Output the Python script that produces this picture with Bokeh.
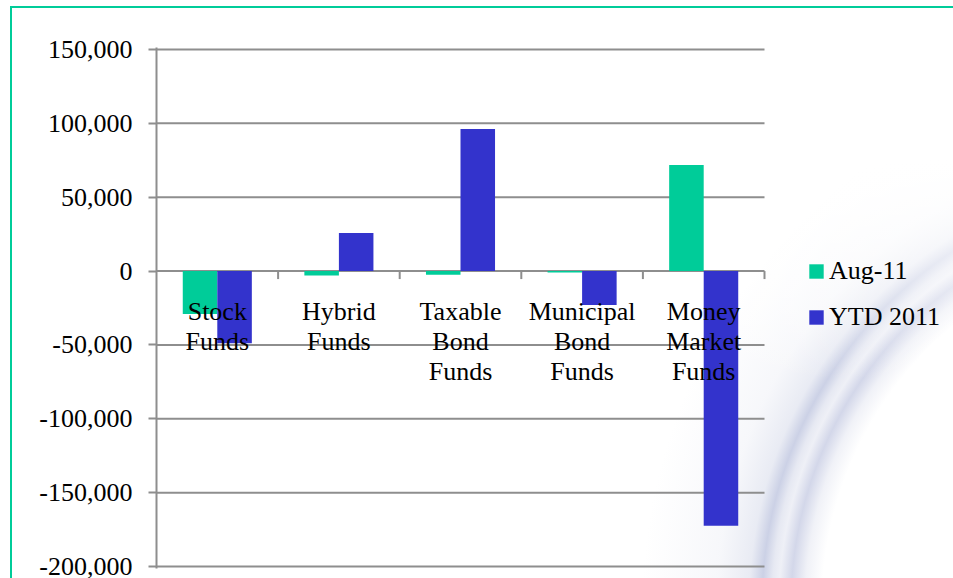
import numpy as np
from bokeh.plotting import figure
from bokeh.models import (Range1d, FixedTicker, NumeralTickFormatter, Legend,
                          LegendItem)
from bokeh.core.properties import value
from bokeh.embed import file_html
from bokeh.resources import INLINE

# ---------------- data ----------------
categories = ["Stock\nFunds", "Hybrid\nFunds", "Taxable\nBond\nFunds",
              "Municipal\nBond\nFunds", "Money\nMarket\nFunds"]
aug_11 = [-29000, -3000, -2500, -1000, 71800]
ytd_2011 = [-48800, 25700, 96100, -23000, -172400]
series_names = ["Aug-11", "YTD 2011"]
y_ticks = [-200000, -150000, -100000, -50000, 0, 50000, 100000, 150000]

# ---------------- style ----------------
GREEN = "#00CC99"
BLUE = "#3333CC"
GRID = "#8E8E8E"
FONT = "Liberation Serif"
FSIZE = "26px"

W, H = 953, 578
PAD = 2                       # px of breathing room so edge gridlines are not clipped
ML, MT, MB = 156, 49 - PAD, 12 - PAD
MR = 0
frame_h = H - MT - MB
frame_w = W - ML - MR
cat_px = 608 / len(categories)           # pixel width of one category slot
px_per_unit = (frame_h - 2 * PAD) / (y_ticks[-1] - y_ticks[0])
pad_units = PAD / px_per_unit

p = figure(width=W, height=H, output_backend="svg", toolbar_location=None,
           x_range=Range1d(0, frame_w / cat_px),
           y_range=Range1d(y_ticks[0] - pad_units, y_ticks[-1] + pad_units),
           min_border_left=ML, min_border_right=MR,
           min_border_top=MT, min_border_bottom=MB)
p.outline_line_color = None
p.background_fill_color = None
p.border_fill_color = None

# page decoration: teal slide frame and faint swirl, as CSS backgrounds
p.styles = {
    "background": ", ".join([
        "linear-gradient(#00CC99, #00CC99) 9.5px 5.5px / 2px 700px no-repeat",
        "linear-gradient(#00CC99, #00CC99) 9.5px 5.5px / 1000px 2px no-repeat",
        "linear-gradient(to bottom, #ffffff 0px, #ffffff 160px, rgba(255,255,255,0) 380px)",
        "radial-gradient(circle at 1187px 606px, rgba(255,255,255,0) 365px, "
        "rgba(222,225,238,0.45) 382px, rgba(200,205,228,0.80) 396px, "
        "rgba(222,225,238,0.50) 408px, rgba(214,218,234,0.60) 415px, "
        "rgba(198,204,227,0.90) 425px, rgba(218,222,236,0.60) 438px, "
        "rgba(234,236,244,0.40) 470px, rgba(255,255,255,0) 545px)",
        "#ffffff",
    ])
}

# axes
p.xaxis.visible = False
p.xgrid.visible = False
p.ygrid.visible = False
p.yaxis.ticker = FixedTicker(ticks=y_ticks)
p.yaxis.formatter = NumeralTickFormatter(format="0,0")
p.yaxis.major_label_text_font = FONT
p.yaxis.major_label_text_font_size = FSIZE
p.yaxis.major_label_text_color = "black"
p.yaxis.axis_line_color = GRID
p.yaxis.axis_line_width = 2
p.yaxis.major_tick_line_color = GRID
p.yaxis.major_tick_line_width = 2
p.yaxis.major_tick_out = 8
p.yaxis.major_tick_in = 0
p.yaxis.minor_tick_line_color = None
p.yaxis.major_label_standoff = 16

n = len(categories)
idx = np.arange(n)
centers = idx + 0.5

# horizontal gridlines spanning only the category area
p.segment(x0=[0] * len(y_ticks), y0=y_ticks, x1=[n] * len(y_ticks), y1=y_ticks,
          line_color=GRID, line_width=2)

# category axis ticks at the zero line
tick_len = 8 / px_per_unit
bounds = idx + 1
p.segment(x0=bounds, y0=[0] * n, x1=bounds, y1=[-tick_len] * n,
          line_color=GRID, line_width=2)

# bars
bw = 0.284
g = p.vbar(x=centers - bw / 2, top=aug_11, bottom=0, width=bw,
           fill_color=GREEN, line_color=None)
b = p.vbar(x=centers + bw / 2, top=ytd_2011, bottom=0, width=bw,
           fill_color=BLUE, line_color=None)

# category labels
label_y = -26 / px_per_unit
p.text(x=centers, y=[label_y] * n, text=categories,
       text_font=value(FONT), text_font_size=FSIZE, text_color="black",
       text_align="center", text_baseline="top", text_line_height=1.03)

# legend (inside the wide frame, right of the categories)
legend = Legend(items=[LegendItem(label=series_names[0], renderers=[g]),
                       LegendItem(label=series_names[1], renderers=[b])],
                location=(651, 236), orientation="vertical")
legend.label_text_font = FONT
legend.label_text_font_size = FSIZE
legend.label_text_color = "black"
legend.glyph_width = 18
legend.glyph_height = 18
legend.label_height = 18
legend.label_standoff = 4
legend.spacing = 16
legend.padding = 0
legend.margin = 0
legend.border_line_color = None
legend.background_fill_alpha = 0
p.add_layout(legend, "center")

open("out.html", "w").write(file_html(p, INLINE))
